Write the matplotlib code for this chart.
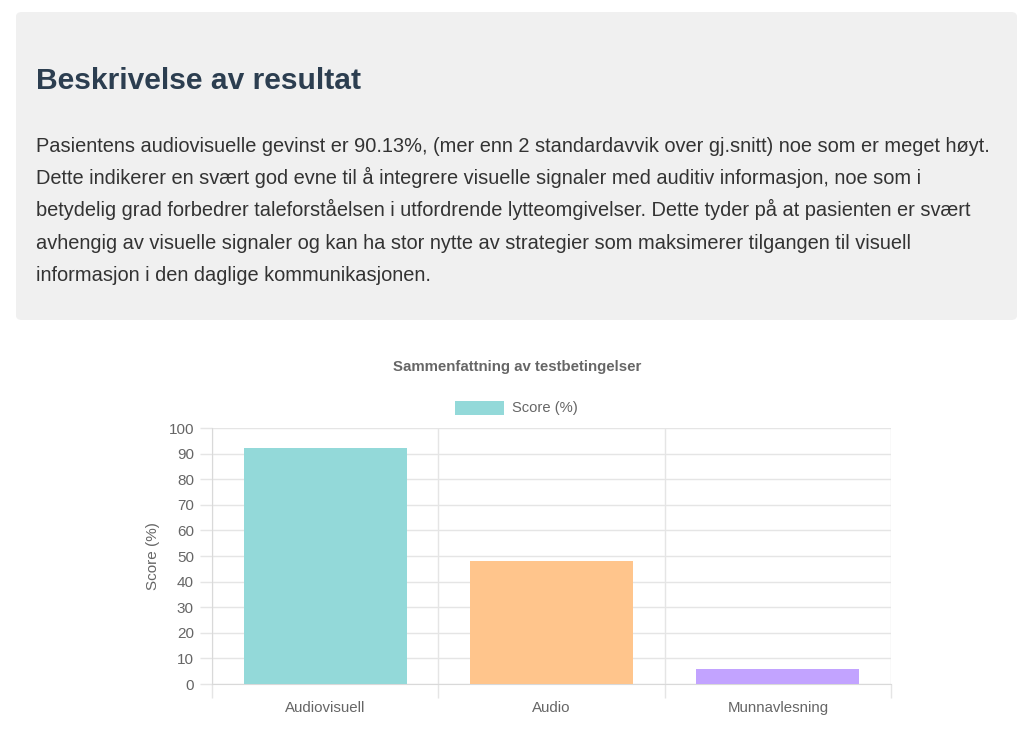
import matplotlib.pyplot as plt
from matplotlib.patches import FancyBboxPatch, Rectangle

plt.rcParams['font.family'] = ['Liberation Sans', 'DejaVu Sans']

# data
categories = ["Audiovisuell", "Audio", "Munnavlesning"]
scores = [92, 48.2, 5.9]
series_label = "Score (%)"
chart_title = "Sammenfattning av testbetingelser"
heading = "Beskrivelse av resultat"
paragraph_lines = [
    "Pasientens audiovisuelle gevinst er 90.13%, (mer enn 2 standardavvik over gj.snitt) noe som er meget høyt.",
    "Dette indikerer en svært god evne til å integrere visuelle signaler med auditiv informasjon, noe som i",
    "betydelig grad forbedrer taleforståelsen i utfordrende lytteomgivelser. Dette tyder på at pasienten er svært",
    "avhengig av visuelle signaler og kan ha stor nytte av strategier som maksimerer tilgangen til visuell",
    "informasjon i den daglige kommunikasjonen.",
]

fill_colors = ["#93d9d9", "#ffc58c", "#c2a3ff"]
grid_col = "#e5e5e5"
text_col = "#666666"

W, H = 1024, 736
fig = plt.figure(figsize=(W / 100, H / 100), dpi=100)

# description box
box = FancyBboxPatch((16 / W, 1 - 320 / H), (1017 - 16) / W, (320 - 12) / H,
                     boxstyle="round,pad=0,rounding_size=0.006",
                     transform=fig.transFigure, facecolor="#f0f0f0",
                     edgecolor="none", zorder=0)
fig.patches.append(box)

fig.text(36 / W, 1 - 89 / H, heading, fontsize=21.6, fontweight="bold",
         color="#2c3e50", ha="left", va="baseline")
for i, line in enumerate(paragraph_lines):
    fig.text(36 / W, 1 - (152 + i * 32.2) / H, line, fontsize=14.4,
             color="#333333", ha="left", va="baseline")

# chart
ax = fig.add_axes([212 / W, 1 - 684 / H, (891 - 212) / W, (684 - 428) / H])
x = range(len(categories))
ax.bar(x, scores, width=0.72, color=fill_colors, edgecolor="none", zorder=3)

ax.set_xlim(-0.5, len(categories) - 0.5)
ax.set_ylim(0, 100)
ax.set_yticks(range(0, 101, 10))
ax.set_xticks(list(x))
ax.set_xticklabels(categories)
ax.set_xticks([i - 0.5 for i in range(len(categories) + 1)], minor=True)

ax.grid(axis="y", which="major", color=grid_col, linewidth=1, zorder=0)
ax.grid(axis="x", which="minor", color=grid_col, linewidth=1, zorder=0)
ax.tick_params(axis="x", which="major", length=0, pad=12.5, labelsize=10.8,
               labelcolor=text_col)
ax.tick_params(axis="x", which="minor", length=10, color=grid_col, width=1)
ax.tick_params(axis="y", length=9, color=grid_col, width=1, pad=4,
               labelsize=11, labelcolor=text_col)
for side in ["top", "right"]:
    ax.spines[side].set_visible(False)
ax.spines["left"].set_color("#d9d9d9")
ax.spines["bottom"].set_color("#d9d9d9")
ax.set_ylabel(series_label, fontsize=11, color=text_col, labelpad=6)

fig.text(517 / W, 1 - 371 / H, chart_title, fontsize=10.8, fontweight="bold",
         color=text_col, ha="center", va="baseline")

# legend
fig.patches.append(Rectangle((455 / W, 1 - 415 / H), 49 / W, 14 / H,
                             transform=fig.transFigure, facecolor=fill_colors[0],
                             edgecolor="none"))
fig.text(512 / W, 1 - 408 / H, series_label, fontsize=10.6, color=text_col,
         ha="left", va="center")

fig.savefig("out.png", dpi=100)
